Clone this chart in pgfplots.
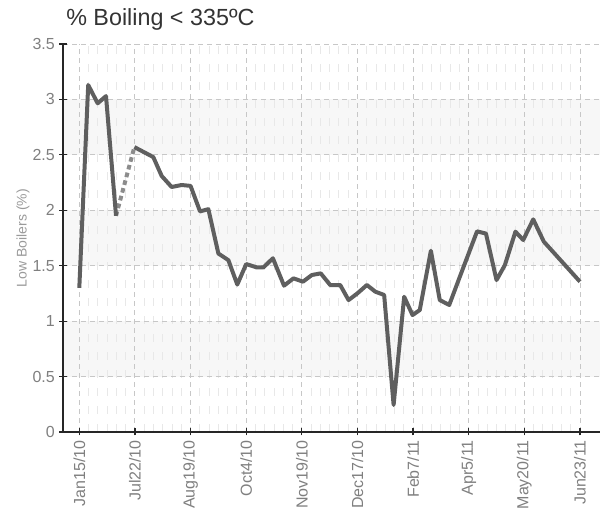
\documentclass[border=0pt]{standalone}
\usepackage{fontspec}
\setmainfont{Liberation Sans}
\newfontfamily\titlefont{Liberation Sans}
\usepackage{pgfplots}
\pgfplotsset{compat=1.18}

\definecolor{linegray}{HTML}{5F5F5F}
\definecolor{dashgray}{HTML}{8C8C8C}
\definecolor{bandgray}{HTML}{F7F7F7}
\definecolor{ticktext}{HTML}{7F7F7F}
\definecolor{labeltext}{HTML}{9A9A9A}

% 1px of the reference = 0.75pt here
\begin{document}
\begin{tikzpicture}
\begin{axis}[
    at={(0,0)}, anchor=south west,
    width=402.75pt, height=291pt, scale only axis,
    set layers,
    xmin=-0.293, xmax=9.36,
    ymin=0, ymax=3.5,
    axis x line*=bottom, axis y line*=left,
    xtick={0,...,9},
    xticklabels={Jan15/10,Jul22/10,Aug19/10,Oct4/10,Nov19/10,Dec17/10,Feb7/11,Apr5/11,May20/11,Jun23/11},
    ytick={0,0.5,...,3.5},
    yticklabels={0,0.5,1,1.5,2,2.5,3,3.5},
    minor x tick num=5,
    xmajorgrids, xminorgrids, ymajorgrids,
    tick align=center,
    major tick length=5.25pt, minor tick length=0pt,
    tick style={black!85, line width=0.9pt},
    axis line style={black!85, line width=1.1pt},
    major grid style={dash pattern=on 3.75pt off 3pt, black!22, line width=0.7pt},
    minor grid style={dash pattern=on 6pt off 7.5pt, black!9, line width=0.7pt},
    ticklabel style={font=\fontsize{12}{14}\selectfont, text=ticktext},
    xticklabel style={rotate=90, anchor=east},
    ylabel={Low Boilers (\%)},
    ylabel style={at={([xshift=-30pt]axis description cs:0,0.5)}, anchor=center,
                  font=\fontsize{10.5}{12}\selectfont, text=labeltext},
]
% light background bands
\addplot[on layer=axis background, fill=bandgray, draw=none]
  coordinates {(-0.293,0.5) (9.36,0.5) (9.36,1) (-0.293,1)} -- cycle;
\addplot[on layer=axis background, fill=bandgray, draw=none]
  coordinates {(-0.293,1.5) (9.36,1.5) (9.36,2) (-0.293,2)} -- cycle;
\addplot[on layer=axis background, fill=bandgray, draw=none]
  coordinates {(-0.293,2.5) (9.36,2.5) (9.36,3) (-0.293,3)} -- cycle;

\addplot[dashgray, line width=3pt, dash pattern=on 3.5pt off 2.5pt]
coordinates {(0.66,1.95) (0.99,2.57)};

\addplot[linegray, line width=3pt, line join=round]
coordinates {
(0.00,1.30) (0.16,3.13) (0.33,2.965) (0.48,3.03) (0.66,1.95)
};

\addplot[linegray, line width=3pt, line join=round]
coordinates {
(0.99,2.57) (1.33,2.48) (1.48,2.31) (1.66,2.21) (1.84,2.228)
(2.00,2.22) (2.17,1.99) (2.32,2.01) (2.50,1.61) (2.68,1.55)
(2.84,1.33) (3.00,1.515) (3.19,1.485) (3.31,1.485) (3.48,1.567)
(3.68,1.32) (3.85,1.386) (4.02,1.356) (4.18,1.416) (4.34,1.431)
(4.51,1.326) (4.69,1.326) (4.84,1.19) (5.00,1.251) (5.17,1.326)
(5.32,1.266) (5.48,1.236) (5.65,0.244) (5.84,1.22) (5.99,1.055)
(6.12,1.10) (6.32,1.635) (6.48,1.19) (6.65,1.146) (6.84,1.40)
(7.15,1.81) (7.31,1.79) (7.50,1.37) (7.65,1.506) (7.84,1.807)
(7.98,1.732) (8.16,1.918) (8.35,1.717) (9.00,1.356)
};
\end{axis}

\node[anchor=base west, inner sep=0pt, text=black!80,
      font=\titlefont\fontsize{17.5}{20}\selectfont] at (2.25pt,304.5pt)
      {\% Boiling < 335ºC};

\pgfresetboundingbox
\path[use as bounding box] (-47.25pt,-57.75pt) rectangle (406.5pt,324pt);
\end{tikzpicture}
\end{document}
